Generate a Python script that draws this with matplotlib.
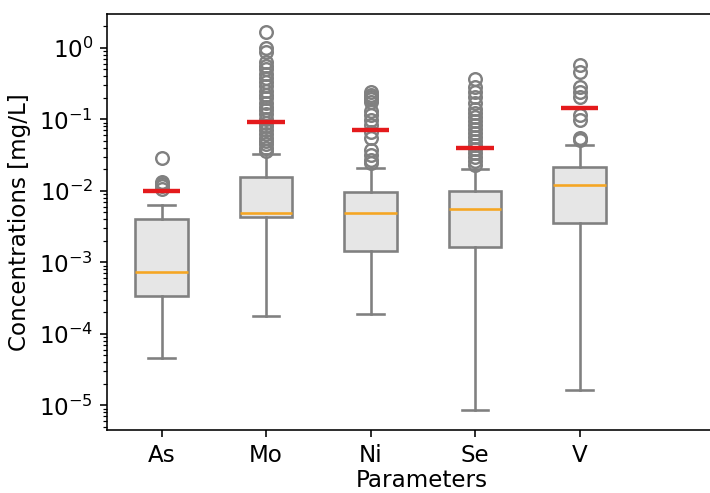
import numpy as np
import matplotlib.pyplot as plt

# =========================
# Data
# =========================

params = ["As", "Mo", "Ni", "Se", "V"]

whislo = [4.6e-5, 1.75e-4, 1.9e-4, 8.7e-6, 1.65e-5]
q1 = [3.4e-4, 4.3e-3, 1.45e-3, 1.65e-3, 3.6e-3]
med = [7.3e-4, 4.9e-3, 4.9e-3, 5.6e-3, 1.2e-2]
q3 = [4.1e-3, 1.57e-2, 9.7e-3, 1.0e-2, 2.17e-2]
whishi = [6.4e-3, 3.3e-2, 2.1e-2, 2.03e-2, 4.4e-2]

fliers_As = [0.0105, 0.0115, 0.0125, 0.0135, 0.029]
fliers_Mo = [0.036, 0.04, 0.045, 0.05, 0.055, 0.062, 0.07, 0.08, 0.09, 0.1,
             0.12, 0.135, 0.15, 0.17, 0.2, 0.22, 0.25, 0.29, 0.33, 0.38,
             0.43, 0.5, 0.56, 0.64, 0.88, 1.0, 1.65]
fliers_Ni = [0.0246, 0.027, 0.032, 0.0375, 0.055, 0.067, 0.084, 0.098,
             0.116, 0.13, 0.176, 0.19, 0.206, 0.22, 0.24]
fliers_Se = [0.0233, 0.0263, 0.0298, 0.0338, 0.0385, 0.0438, 0.05, 0.057,
             0.065, 0.074, 0.084, 0.095, 0.108, 0.123, 0.14, 0.17, 0.206,
             0.24, 0.285, 0.37]
fliers_V = [0.052, 0.055, 0.098, 0.116, 0.206, 0.243, 0.285, 0.46, 0.58]

limits = [0.01, 0.092, 0.071, 0.04, 0.145]

# =========================
# Plot
# =========================

fliers = [fliers_As, fliers_Mo, fliers_Ni, fliers_Se, fliers_V]
stats = []
for i, p in enumerate(params):
    stats.append(dict(label=p, whislo=whislo[i], q1=q1[i], med=med[i],
                      q3=q3[i], whishi=whishi[i], fliers=fliers[i]))

gray = "#808080"

fig = plt.figure(figsize=(710 / 144, 493 / 144), dpi=144)
ax = fig.add_axes([0.151, 0.128, 0.886, 0.844])

ax.bxp(
    stats,
    patch_artist=True,
    widths=0.5,
    boxprops=dict(facecolor="#e6e6e6", edgecolor=gray, linewidth=1.3),
    whiskerprops=dict(color=gray, linewidth=1.3),
    capprops=dict(color=gray, linewidth=1.3),
    medianprops=dict(color="#f5a623", linewidth=1.3),
    flierprops=dict(marker="o", markerfacecolor="none",
                    markeredgecolor=gray, markersize=6.3, markeredgewidth=1.2),
)

positions = np.arange(1, len(params) + 1)
ax.hlines(limits, positions - 0.18, positions + 0.18,
          colors="#e41a1c", linewidth=2.2, zorder=5)

ax.set_yscale("log")
ax.set_ylim(4.54e-6, 2.99)
ax.set_xlim(0.48, 6.5)

ax.spines["right"].set_visible(False)
ax.tick_params(axis="both", labelsize=11.5)

ax.set_xlabel("Parameters", fontsize=11.5, labelpad=1)
ax.set_ylabel("Concentrations [mg/L]", fontsize=11.5)

fig.savefig("out.png", dpi=144)
